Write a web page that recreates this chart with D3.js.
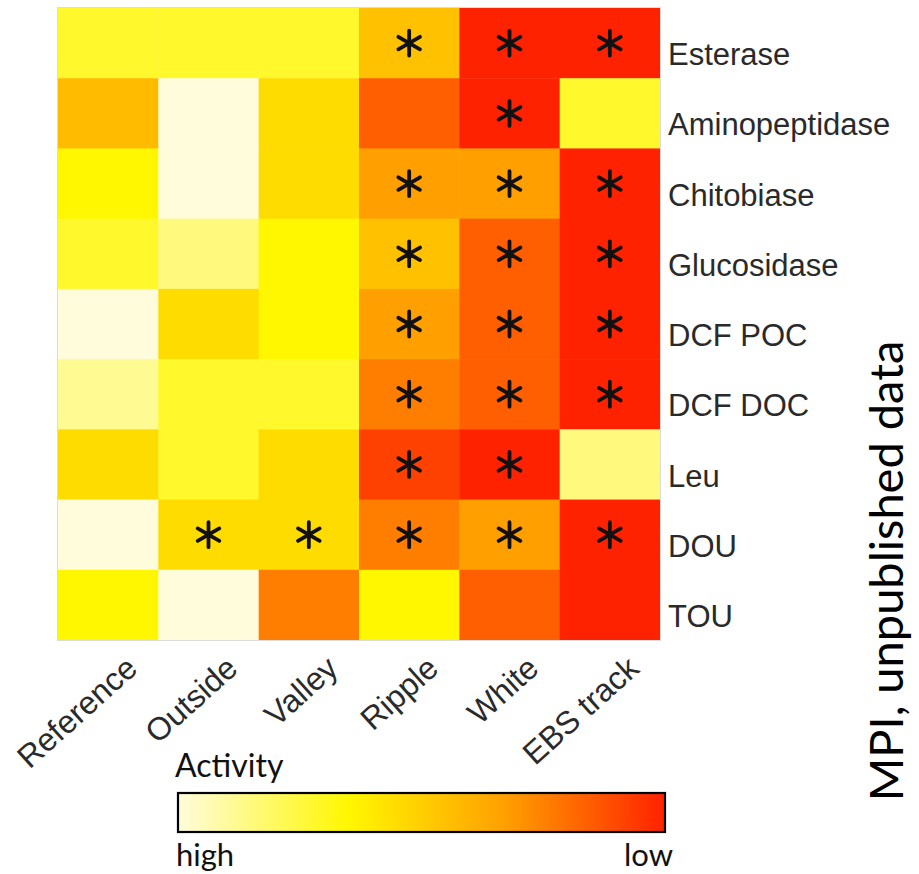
<!DOCTYPE html>
<html>
<head>
<meta charset="utf-8">
<script src="https://cdn.jsdelivr.net/npm/d3@7"></script>
<style>
  body { margin: 0; background: #fff; }
  svg { display: block; }
</style>
</head>
<body>
<script>
// sites (columns) and measured parameters (rows)
const sites = ["Reference", "Outside", "Valley", "Ripple", "White", "EBS track"];
const params = ["Esterase", "Aminopeptidase", "Chitobiase", "Glucosidase", "DCF POC", "DCF DOC", "Leu", "DOU", "TOU"];

// activity index per row, 0 = high activity (pale), 1 = low activity (red)
const esterase       = [0.28, 0.28, 0.28, 0.55, 1.00, 1.00];
const aminopeptidase = [0.57, 0.00, 0.45, 0.84, 1.00, 0.28];
const chitobiase     = [0.35, 0.00, 0.45, 0.67, 0.67, 1.00];
const glucosidase    = [0.28, 0.15, 0.35, 0.55, 0.84, 1.00];
const dcfPoc         = [0.00, 0.45, 0.35, 0.67, 0.84, 1.00];
const dcfDoc         = [0.12, 0.28, 0.28, 0.76, 0.84, 1.00];
const leu            = [0.45, 0.28, 0.45, 0.92, 1.00, 0.15];
const dou            = [0.00, 0.45, 0.45, 0.76, 0.67, 1.00];
const tou            = [0.35, 0.00, 0.76, 0.35, 0.84, 1.00];
const values = [esterase, aminopeptidase, chitobiase, glucosidase, dcfPoc, dcfDoc, leu, dou, tou];

// significance flags (1 = asterisk)
const signif = [
  [0, 0, 0, 1, 1, 1],
  [0, 0, 0, 0, 1, 0],
  [0, 0, 0, 1, 1, 1],
  [0, 0, 0, 1, 1, 1],
  [0, 0, 0, 1, 1, 1],
  [0, 0, 0, 1, 1, 1],
  [0, 0, 0, 1, 1, 0],
  [0, 1, 1, 1, 1, 1],
  [0, 0, 0, 0, 0, 0]
];

const colorStops = [0, 0.35, 0.67, 1];
const colorRange = ["#FFFCDC", "#FFF700", "#FFA000", "#FF2200"];

const width = 919, height = 874;

const svg = d3.select("body").append("svg")
  .attr("width", width)
  .attr("height", height);

const x = d3.scaleBand().domain(sites).range([58, 660]);
const y = d3.scaleBand().domain(params).range([8, 640]);
const color = d3.scaleLinear().domain(colorStops).range(colorRange);

const cells = [];
params.forEach((p, i) => {
  sites.forEach((s, j) => {
    cells.push({ param: p, site: s, v: values[i][j], star: signif[i][j] });
  });
});

svg.append("g")
  .selectAll("rect")
  .data(cells)
  .join("rect")
  .attr("x", d => x(d.site))
  .attr("y", d => y(d.param))
  .attr("width", x.bandwidth() + 0.5)
  .attr("height", y.bandwidth() + 0.5)
  .attr("fill", d => color(d.v));

svg.append("rect")
  .attr("x", 57.5).attr("y", 7.5)
  .attr("width", 603).attr("height", 633)
  .attr("fill", "none")
  .attr("stroke", "#dcdcdc")
  .attr("stroke-width", 1);

// asterisks: six-armed star
const r = 12.5;
const starPath = d3.path();
[90, 30, -30].forEach(a => {
  const rad = a * Math.PI / 180;
  starPath.moveTo(-r * Math.cos(rad), -r * Math.sin(rad));
  starPath.lineTo(r * Math.cos(rad), r * Math.sin(rad));
});

svg.append("g")
  .selectAll("path")
  .data(cells.filter(d => d.star))
  .join("path")
  .attr("transform", d => `translate(${x(d.site) + x.bandwidth() / 2},${y(d.param) + y.bandwidth() / 2})`)
  .attr("d", starPath.toString())
  .attr("stroke", "#111")
  .attr("stroke-width", 3.8)
  .attr("stroke-linecap", "round")
  .attr("fill", "none");

// row labels
svg.append("g")
  .selectAll("text")
  .data(params)
  .join("text")
  .attr("x", 668)
  .attr("y", d => y(d) + y.bandwidth() / 2 + 11)
  .attr("dy", "0.36em")
  .attr("font-family", "'Liberation Sans', Arial, sans-serif")
  .attr("font-size", 31)
  .attr("fill", "#2a2a2a")
  .text(d => d);

// column labels
svg.append("g")
  .selectAll("text")
  .data(sites)
  .join("text")
  .attr("transform", d => `translate(${x(d) + x.bandwidth() / 2 + 31},${671}) rotate(-42)`)
  .attr("text-anchor", "end")
  .attr("font-family", "'Liberation Sans', Arial, sans-serif")
  .attr("font-size", 32)
  .attr("fill", "#2a2a2a")
  .text(d => d);

// colour legend
const defs = svg.append("defs");
const grad = defs.append("linearGradient").attr("id", "actgrad");
grad.selectAll("stop")
  .data(colorStops)
  .join("stop")
  .attr("offset", d => d * 100 + "%")
  .attr("stop-color", d => color(d));

const legX = d3.scaleLinear().domain([0, 1]).range([178, 665]);

svg.append("rect")
  .attr("x", legX(0))
  .attr("y", 793)
  .attr("width", legX(1) - legX(0))
  .attr("height", 39)
  .attr("fill", "url(#actgrad)")
  .attr("stroke", "#000")
  .attr("stroke-width", 2.2);

const font2 = "Lato, 'Open Sans', sans-serif";
svg.append("text")
  .attr("x", 175).attr("y", 777)
  .attr("font-family", font2).attr("font-size", 32)
  .attr("fill", "#111")
  .text("Activity");
svg.append("text")
  .attr("x", 176).attr("y", 866)
  .attr("font-family", font2).attr("font-size", 31)
  .attr("fill", "#111")
  .text("high");
svg.append("text")
  .attr("x", 673).attr("y", 866)
  .attr("text-anchor", "end")
  .attr("font-family", font2).attr("font-size", 31)
  .attr("fill", "#111")
  .text("low");

svg.append("text")
  .attr("transform", "translate(903,571) rotate(-90)")
  .attr("text-anchor", "middle")
  .attr("font-family", font2)
  .attr("font-size", 47)
  .attr("fill", "#000")
  .text("MPI, unpublished data");
</script>
</body>
</html>
